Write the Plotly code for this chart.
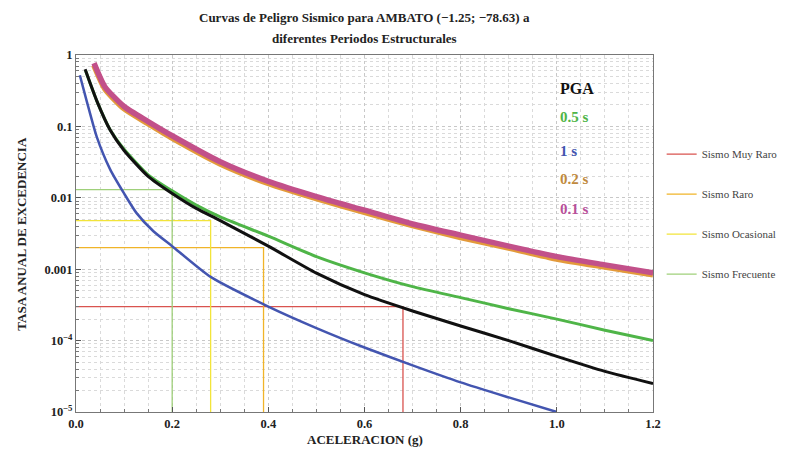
import plotly.graph_objects as go

# ---- data ----
acc_01 = [0.0375, 0.06, 0.1, 0.15, 0.2, 0.3, 0.4, 0.5, 0.6, 0.7, 0.8, 0.9, 1.0, 1.1, 1.2]
rate_01 = [0.77, 0.36, 0.19, 0.117, 0.074, 0.032, 0.017, 0.0104, 0.0067, 0.0043, 0.0030, 0.0021, 0.0015, 0.00115, 0.00089]

acc_02 = [0.0375, 0.06, 0.1, 0.15, 0.2, 0.3, 0.4, 0.5, 0.6, 0.7, 0.8, 0.9, 1.0, 1.1, 1.2]
rate_02 = [0.72, 0.34, 0.178, 0.11, 0.069, 0.030, 0.016, 0.0098, 0.0063, 0.0041, 0.0028, 0.0020, 0.0014, 0.00108, 0.00084]

acc_pga = [0.019, 0.043, 0.071, 0.1, 0.15, 0.2, 0.25, 0.3, 0.4, 0.5, 0.6, 0.7, 0.8, 0.9, 1.0, 1.1, 1.2]
rate_pga = [0.63, 0.23, 0.089, 0.046, 0.02, 0.0115, 0.0071, 0.0048, 0.0021, 0.00088, 0.00044, 0.00026, 0.00016, 0.0001, 0.00006, 0.000037, 0.000025]

acc_05 = [0.02, 0.043, 0.071, 0.1, 0.15, 0.2, 0.25, 0.3, 0.4, 0.5, 0.6, 0.7, 0.8, 0.9, 1.0, 1.1, 1.2]
rate_05 = [0.6, 0.23, 0.09, 0.048, 0.021, 0.0125, 0.0079, 0.0054, 0.0029, 0.0015, 0.00089, 0.00057, 0.0004, 0.00028, 0.0002, 0.00014, 0.0001]

acc_1 = [0.008, 0.022, 0.043, 0.071, 0.1, 0.126, 0.161, 0.2, 0.28, 0.4, 0.5, 0.6, 0.7, 0.8, 0.9, 1.0]
rate_1 = [0.52, 0.23, 0.072, 0.025, 0.0115, 0.0061, 0.0034, 0.0021, 0.00078, 0.0003, 0.00015, 0.00008, 0.000045, 0.000026, 0.000016, 0.00001]

level_names = ["Sismo Muy Raro", "Sismo Raro", "Sismo Ocasional", "Sismo Frecuente"]
level_rate = [0.0003, 0.002, 0.0048, 0.013]
level_acc = [0.68, 0.39, 0.28, 0.2]
level_colors = ["#d9534f", "#f0b429", "#f2e43a", "#9fd07a"]

x_ticks = [0.0, 0.2, 0.4, 0.6, 0.8, 1.0, 1.2]
x_ticktext = ["0.0", "0.2", "0.4", "0.6", "0.8", "1.0", "1.2"]
y_ticks = [1, 0.1, 0.01, 0.001, 1e-4, 1e-5]
y_ticktext = ["1", "0.1", "0.01", "0.001", "10<sup>\u22124</sup>", "10<sup>\u22125</sup>"]

SERIF = "Liberation Serif, Times New Roman, serif"
Y_FLOOR = 1e-5

fig = go.Figure()

# threshold lines (legend entries)
for name, r, a, c in zip(level_names, level_rate, level_acc, level_colors):
    fig.add_trace(go.Scatter(
        x=[0, a, a], y=[r, r, Y_FLOOR], mode="lines", name=name,
        line=dict(color=c, width=1.3), legendgroup=name))

curve_style = [
    (acc_02, rate_02, "#e39a3b", 6, "0.2 s"),
    (acc_01, rate_01, "#c2508a", 5.5, "0.1 s"),
    (acc_05, rate_05, "#4fb548", 3, "0.5 s"),
    (acc_pga, rate_pga, "#111111", 3, "PGA"),
    (acc_1, rate_1, "#4355b0", 2.5, "1 s"),
]
for xs, ys, col, w, nm in curve_style:
    fig.add_trace(go.Scatter(
        x=xs, y=ys, mode="lines", name=nm, showlegend=False,
        line=dict(color=col, width=w, shape="spline", smoothing=0.6)))

# series labels in the plot
labels = [("PGA", "#111111", 0.905, 16), ("0.5 s", "#4fb548", 0.825, 15),
          ("1 s", "#4355b0", 0.73, 15), ("0.2 s", "#c08a3e", 0.652, 15),
          ("0.1 s", "#b8509a", 0.57, 15)]
for txt, col, yp, fs in labels:
    fig.add_annotation(x=0.835, y=yp, xref="paper", yref="paper", text="<b>%s</b>" % txt,
                       showarrow=False, xanchor="left", yanchor="middle",
                       font=dict(family=SERIF, size=fs, color=col))

# title lines
fig.add_annotation(x=0.5, y=1.105, xref="paper", yref="paper",
                   text="<b>Curvas de Peligro Sismico para AMBATO (\u22121.25; \u221278.63) a</b>",
                   showarrow=False, xanchor="center", yanchor="middle",
                   font=dict(family=SERIF, size=13, color="#222"))
fig.add_annotation(x=0.5, y=1.047, xref="paper", yref="paper",
                   text="<b>diferentes Periodos Estructurales</b>",
                   showarrow=False, xanchor="center", yanchor="middle",
                   font=dict(family=SERIF, size=13, color="#222"))
# axis titles
fig.add_annotation(x=0.5, y=-0.078, xref="paper", yref="paper",
                   text="<b>ACELERACION (g)</b>", showarrow=False,
                   xanchor="center", yanchor="middle",
                   font=dict(family=SERIF, size=13, color="#222"))
fig.add_annotation(x=-0.095, y=0.5, xref="paper", yref="paper",
                   text="<b>TASA ANUAL DE EXCEDENCIA</b>", showarrow=False, textangle=-90,
                   xanchor="center", yanchor="middle",
                   font=dict(family=SERIF, size=13, color="#222"))

grid_col = "#c8c8c8"
# the page body adds an 8px offset, so the figure is sized to fill the rest of the window
fig.update_layout(
    width=782, height=448,
    margin=dict(l=68, r=137, t=47, b=44, autoexpand=False),
    paper_bgcolor="white", plot_bgcolor="white",
    showlegend=True,
    legend=dict(x=1.015, y=0.763, xanchor="left", yanchor="top",
                font=dict(family=SERIF, size=11, color="#444"),
                tracegroupgap=21, bgcolor="rgba(0,0,0,0)"),
    font=dict(family=SERIF, color="#222"),
)
fig.update_xaxes(
    range=[0, 1.2], tickvals=x_ticks, ticktext=["<b>%s</b>" % t for t in x_ticktext],
    tickfont=dict(family=SERIF, size=12.5, color="#222"),
    showline=True, linecolor="#777", linewidth=1, mirror=True,
    ticks="inside", ticklen=5, tickcolor="#555",
    showgrid=True, gridcolor=grid_col, griddash="dot", gridwidth=1,
    minor=dict(dtick=0.05, showgrid=True, gridcolor="#dadada", griddash="dot",
               ticks="inside", ticklen=3, tickcolor="#777"),
    zeroline=False, automargin=False,
)
fig.update_yaxes(
    type="log", range=[-5, 0], tickvals=y_ticks, ticktext=["<b>%s</b>" % t for t in y_ticktext],
    tickfont=dict(family=SERIF, size=12.5, color="#222"),
    showline=True, linecolor="#777", linewidth=1, mirror=True,
    ticks="inside", ticklen=5, tickcolor="#555",
    showgrid=True, gridcolor=grid_col, griddash="dot", gridwidth=1,
    minor=dict(dtick="D1", showgrid=True, gridcolor="#dadada", griddash="dot",
               ticks="inside", ticklen=3, tickcolor="#777"),
    zeroline=False, automargin=False,
)

fig.write_html("out.html")
